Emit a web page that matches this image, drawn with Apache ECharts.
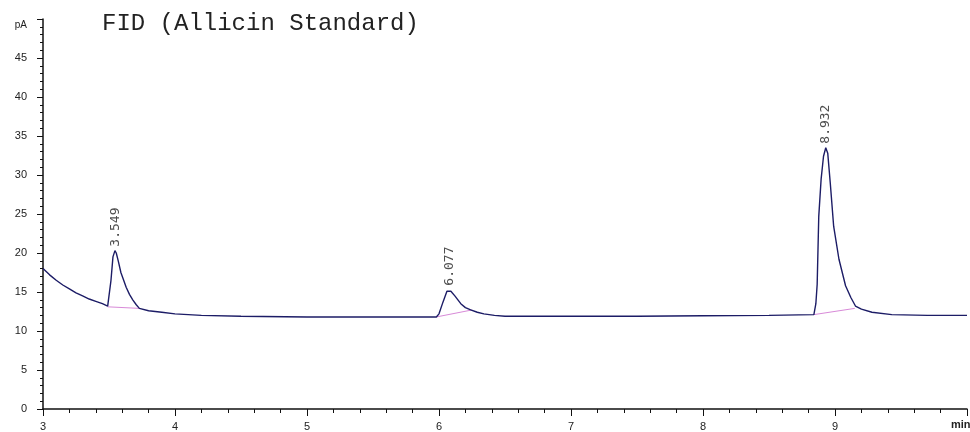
<!DOCTYPE html>
<html>
<head>
<meta charset="utf-8">
<script src="https://cdn.jsdelivr.net/npm/echarts@6/dist/echarts.min.js"></script>
<style>html,body{margin:0;padding:0;background:#fff}#c{width:970px;height:432px}</style>
</head>
<body>
<div id="c"></div>
<script>
// Retention time (min) and detector signal (pA)
const times = [3.00,3.05,3.10,3.15,3.20,3.25,3.30,3.35,3.40,3.45,3.49,3.50,3.515,3.53,3.545,3.555,3.57,3.59,3.605,3.63,3.655,3.68,3.705,3.73,3.80,3.90,4.00,4.20,4.50,5.00,5.50,5.93,5.98,6.00,6.03,6.06,6.075,6.09,6.12,6.165,6.20,6.24,6.29,6.34,6.42,6.50,7.00,7.50,8.00,8.50,8.84,8.855,8.865,8.877,8.895,8.913,8.93,8.945,8.964,8.99,9.03,9.08,9.12,9.155,9.20,9.28,9.43,9.70,10.00];
const signal = [18.0,17.2,16.5,15.9,15.4,14.9,14.5,14.1,13.8,13.5,13.2,13.3,16.5,19.5,20.3,20.0,19.0,17.5,16.8,15.6,14.7,14.0,13.4,12.9,12.6,12.4,12.2,12.0,11.9,11.8,11.8,11.8,11.8,12.2,13.7,15.1,15.3,15.1,14.5,13.5,13.0,12.7,12.4,12.2,12.0,11.9,11.9,11.9,11.95,12.0,12.1,13.5,16.0,24.7,29.5,32.4,33.5,32.8,29.0,23.4,19.2,15.8,14.3,13.2,12.8,12.4,12.1,12.0,12.0];
// Peak apexes and their retention-time labels
const peakTimes = [3.549, 6.077, 8.932];
const peakHeights = [20.3, 15.3, 33.5];
const peakLabels = ['3.549', '6.077', '8.932'];
// Integration baselines (start/end time and signal)
const baseStartT = [3.49, 5.98, 8.84];
const baseStartY = [13.1, 11.8, 12.1];
const baseEndT = [3.73, 6.25, 9.15];
const baseEndY = [12.9, 12.7, 12.9];
const xTicks = [3,4,5,6,7,8,9];
const yMax = 50;

const trace = times.map((t,i)=>[t, signal[i]]);
const baseSeries = baseStartT.map((t,i)=>({
  type:'line', data:[[t,baseStartY[i]],[baseEndT[i],baseEndY[i]]],
  symbol:'none', silent:true, lineStyle:{color:'#d88ad8', width:1}, z:1
}));

const chart = echarts.init(document.getElementById('c'), null, {renderer:'canvas'});
chart.setOption({
  animation:false,
  backgroundColor:'#fff',
  title:{text:'FID (Allicin Standard)', left:97, top:7,
    textStyle:{fontFamily:'Liberation Mono', fontSize:24, fontWeight:'normal', color:'#222'}},
  grid:{left:43, right:-3, top:19, bottom:22},
  xAxis:{type:'value', min:3, max:10, interval:1,
    axisLine:{lineStyle:{color:'#111', width:1.5}},
    axisTick:{length:7, lineStyle:{color:'#111'}},
    minorTick:{show:true, splitNumber:5, length:4, lineStyle:{color:'#111'}},
    splitLine:{show:false},
    axisLabel:{margin:12, fontSize:11, fontFamily:'Liberation Sans', color:'#222',
      formatter:v=> xTicks.indexOf(v)>=0 ? String(v) : ''}},
  yAxis:{type:'value', min:0, max:yMax, interval:5,
    axisLine:{show:true, lineStyle:{color:'#111', width:1.5}},
    axisTick:{show:true, length:6, lineStyle:{color:'#111'}},
    minorTick:{show:true, splitNumber:5, length:3, lineStyle:{color:'#111'}},
    splitLine:{show:false},
    axisLabel:{margin:16, fontSize:11, fontFamily:'Liberation Sans', color:'#222',
      formatter:v=> v===yMax ? '{p|pA}' : String(v),
      rich:{p:{fontSize:10, fontFamily:'Liberation Sans', color:'#222', padding:[12,0,0,0]}}}},
  graphic:[{type:'text', left:951, top:419,
    style:{text:'min', fontSize:11, fontFamily:'Liberation Sans', fontWeight:'bold', fill:'#222'}}],
  series:[
    ...baseSeries,
    {type:'line', data:trace, symbol:'none', silent:true,
      lineStyle:{color:'#1c1c66', width:1.4}, z:3},
    {type:'scatter', data:peakTimes.map((t,i)=>[t,peakHeights[i]]), symbolSize:0, silent:true, z:4,
      label:{show:true, position:'top', distance:4, rotate:90, align:'left', verticalAlign:'middle',
        fontSize:13, fontFamily:'DejaVu Sans Mono', color:'#222',
        formatter:p=>peakLabels[p.dataIndex]}}
  ]
});
</script>
</body>
</html>
